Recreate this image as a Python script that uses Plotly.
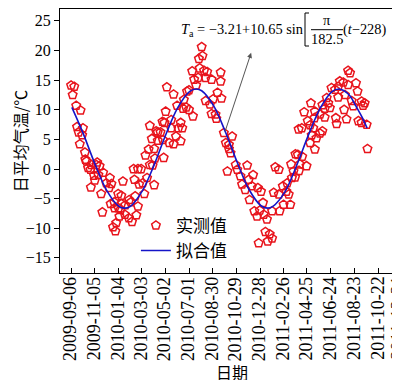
import pandas as pd
import plotly.graph_objects as go

START = "2009-09-06"

# observed daily mean air temperature: day offset from START, value (°C)
obs_day = [0, 4, 8, 13, 15, 19, 22, 24, 28, 30, 35, 36, 39, 43, 49, 50, 51, 58, 60, 64, 66, 69, 72,
           76, 79, 81, 89, 96, 98, 100, 102, 106, 109, 110, 112, 114, 119, 120, 122, 125, 127, 127,
           131, 136, 137, 146, 147, 151, 154, 158, 160, 162, 165, 169, 169, 172, 177, 181, 185,
           188, 192, 196, 199, 199, 204, 206, 210, 210, 212, 215, 219, 219, 226, 231, 232, 234,
           236, 239, 242, 248, 253, 253, 259, 259, 265, 268, 271, 277, 277, 281, 283, 285,
           291, 293, 298, 298, 306, 308, 311, 316, 321, 323, 325, 330, 332, 336, 340, 340, 344,
           351, 355, 355, 359, 365, 367, 370, 378, 378, 380, 386, 391, 395, 399, 399, 403, 407,
           416, 420, 428, 432, 440, 445, 449, 451, 457, 460, 463, 470, 472, 474, 477, 480, 485,
           487, 491, 495, 497, 502, 508, 508, 512, 516, 525, 525, 527, 535, 537, 544, 546, 550,
           554, 556, 558, 562, 566, 567, 573, 575, 576, 578, 583, 584, 589, 595, 598, 604, 604,
           606, 608, 612, 615, 616, 616, 620, 629, 629, 635, 635, 641, 641, 646, 650, 654, 658,
           667, 669, 671, 675, 675, 679, 688, 690, 692, 696, 700, 700, 705, 709, 713, 720, 724,
           726, 734, 734, 738, 742, 747, 749]
obs_temp = [14.1, 12.5, 13.9, 10.7, 7.1, 6.2, 4.2, 9.9, 5.7, 6.9, 2.8, 1.6, 1.3, 0.2, -0.1, -3.1, 0.7,
            -1.1, -1.9, 0.7, 1.1, -1.0, 0.5,
            -4.2, -7.3, -0.6, -2.4, -3.2, -1.5, -5.9, -2.5, -9.8, -5.6, -6.6, -10.5, -9.1, -4.2, -6.6,
            -8.0, -6.9, -4.5, -5.9,
            -2.1, -7.7, -6.1, -8.3, -5.2, -5.6, -8.9, 0.0, -1.8, -4.6, -7.8, -6.3, 0.0, -2.6, 0.0, -2.4,
            -4.2,
            2.3, -1.5, 3.3, 7.3, 0.7, 5.1, 0.6, 3.4, -2.7, 1.8, 6.4, 4.8, 6.2, 6.2, 8.0, 4.9, 1.9,
            7.8, 9.7, 13.8, 4.4, 8.3, 6.9, 12.6, 4.2, 5.5, 10.7, 6.9, 4.7, 7.8, 6.9, 10.2, 11.7,
            10.4, 13.1, 13.3, 10.0, 16.5, 8.9, 15.1, 14.1, 15.4, 18.6, 17.0, 20.6, 19.1, 16.6, 15.4,
            11.5, 16.4,
            10.9, 15.1, 9.3, 11.8, 9.2, 8.5, 12.9, 16.3, 14.8, 11.9, 6.1, 4.4, -0.4, 4.1, 3.4, 2.7, 5.5,
            0.7, -0.1, -1.2, -2.6, -3.5, 0.6, -1.8, -5.2, -2.9, -1.0, -7.1, -8.0, -3.2, -12.5, -7.0,
            -3.8, -5.7,
            -7.7, -10.6, -8.5, -12.2, -11.0, -11.7, -7.1, -4.0, 0.3, -4.3, -0.1, -7.1, -2.9, -6.0,
            -3.8, -2.4, -4.3,
            -6.0, 0.8, -1.5, -0.4, -1.4, 2.5, 2.4, 6.7, -0.3, 0.8, 6.9, 2.1, 9.6, 0.5, 8.1, 7.4, 4.4,
            11.1, 5.7, 6.9, 8.6, 9.7, 3.3, 5.2, 9.2, 6.0, 10.8, 6.4, 10.2, 8.7, 12.0, 11.1, 10.3, 13.7,
            13.4, 8.6, 7.6, 13.9, 12.1, 14.8, 14.6, 10.0, 12.5, 8.4, 16.6, 14.2, 16.2, 11.5, 10.6,
            14.5, 13.1,
            8.1, 11.4, 7.8, 10.7, 11.1, 7.5, 3.4]

# fitted curve
fit_day = [2, 30, 60, 90, 120, 135, 150, 180, 210, 240, 270, 300, 316, 330, 360, 390, 420, 450,
           480, 497, 510, 540, 570, 600, 630, 660, 677, 690, 705, 720, 735, 748]
fit_temp = [10.4, 6.1, 0.9, -3.6, -6.25, -6.6, -6.3, -3.7, 0.7, 5.9, 10.4, 13.1, 13.5, 13.2, 10.7,
            6.25, 1.1, -3.5, -6.2, -6.6, -6.3, -3.9, 0.6, 5.75, 10.3, 13.1, 13.5, 13.2, 12.3, 10.6,
            8.8, 6.9]

tick_labels = ["2009-09-06", "2009-11-05", "2010-01-04", "2010-03-03", "2010-05-02",
               "2010-07-01", "2010-08-30", "2010-10-29", "2010-12-28", "2011-02-26",
               "2011-04-25", "2011-06-24", "2011-08-23", "2011-10-22", "2011-12-21"]
y_ticks = [-15, -10, -5, 0, 5, 10, 15, 20, 25]

start = pd.Timestamp(START)
obs_dates = start + pd.to_timedelta(obs_day, unit="D")
fit_dates = start + pd.to_timedelta(fit_day, unit="D")

SERIF = "Liberation Serif, Times New Roman, serif"
CJK = "Noto Sans CJK SC, sans-serif"

fig = go.Figure()
fig.add_trace(go.Scatter(
    x=obs_dates, y=obs_temp, mode="markers", name="实测值",
    marker=dict(symbol="pentagon-open", size=9, color="#e8141c", line=dict(width=1.5, color="#e8141c")),
))
fig.add_trace(go.Scatter(
    x=fit_dates, y=fit_temp, mode="lines", name="拟合值",
    line=dict(color="#1414c8", width=1.6, shape="spline"),
))

W_L, W_R = 52, 394
T_TOP, T_BOT = 1, 265


def px_x(px):
    return (px - W_L) / (W_R - W_L)


def px_y(py):
    return 1 - (py - T_TOP) / (T_BOT - T_TOP)


fig.update_layout(
    width=400, height=380,
    margin=dict(l=W_L, r=400 - W_R, t=T_TOP, b=380 - T_BOT),
    paper_bgcolor="white", plot_bgcolor="white",
    showlegend=True,
    legend=dict(x=0.222, y=0.247, xanchor="left", yanchor="top", bgcolor="rgba(0,0,0,0)",
                font=dict(family=CJK, size=17, color="black"), tracegroupgap=0),
    xaxis=dict(
        type="date", range=["2009-08-09", "2011-12-21 06:00"],
        tickvals=tick_labels, showticklabels=False,
        ticks="inside", ticklen=5, tickcolor="black",
        showline=True, linecolor="black", linewidth=1, mirror=True, showgrid=False, zeroline=False,
        automargin=False,
    ),
    yaxis=dict(
        range=[-17.55, 27.0], tickvals=y_ticks,
        ticks="outside", ticklen=5, tickcolor="black",
        showline=True, linecolor="black", linewidth=1, mirror=True, showgrid=False, zeroline=False,
        tickfont=dict(family=SERIF, size=16, color="black"),
        title=dict(text="日平均气温/℃", font=dict(family=CJK, size=16, color="black"), standoff=0),
        automargin=False,
    ),
)

# rotated date tick labels under the axis
for lab in tick_labels[:-1]:
    fig.add_annotation(xref="x", yref="paper", x=lab, y=px_y(268), xanchor="center",
                       yanchor="top", textangle=-90, showarrow=False, text=lab, xshift=-1,
                       font=dict(family=SERIF, size=18, color="black"), borderpad=0)
# the last label sits on the right border, so keep it inside the page
fig.add_annotation(xref="paper", yref="paper", x=px_x(400), y=px_y(268), xanchor="right",
                   yanchor="top", textangle=-90, showarrow=False, text=tick_labels[-1],
                   font=dict(family=SERIF, size=18, color="black"), borderpad=0)

# x-axis title placed under the rotated tick labels
fig.add_annotation(xref="paper", yref="paper", x=px_x(224), y=px_y(378), xanchor="center",
                   yanchor="bottom", showarrow=False, text="日期",
                   font=dict(family=CJK, size=16, color="black"))

ffont = dict(family=SERIF, size=14.4, color="black")
fig.add_annotation(xref="paper", yref="paper", x=px_x(171), y=px_y(21.7), xanchor="left",
                   yanchor="middle", showarrow=False, font=ffont,
                   text="<i>T</i><sub>a</sub> = −3.21+10.65 sin")
fig.add_annotation(xref="paper", yref="paper", x=px_x(319), y=px_y(11.5), xanchor="center",
                   yanchor="middle", showarrow=False, font=ffont, text="π")
fig.add_annotation(xref="paper", yref="paper", x=px_x(319), y=px_y(31.5), xanchor="center",
                   yanchor="middle", showarrow=False, font=ffont, text="182.5")
fig.add_annotation(xref="paper", yref="paper", x=px_x(333), y=px_y(21.7), xanchor="left",
                   yanchor="middle", showarrow=False, font=ffont, text="(<i>t</i>−228)")
# fraction bar and brackets
fig.add_shape(type="line", xref="paper", yref="paper", x0=px_x(303), x1=px_x(335),
              y0=px_y(21.7), y1=px_y(21.7), line=dict(color="black", width=1))
fig.add_shape(type="path", xref="paper", yref="paper",
              path=f"M {px_x(301)} {px_y(5)} L {px_x(297)} {px_y(5)} L {px_x(297)} {px_y(38)} L {px_x(301)} {px_y(38)}",
              line=dict(color="black", width=1))
fig.add_shape(type="path", xref="paper", yref="paper",
              path=f"M {px_x(385)} {px_y(5)} L {px_x(389)} {px_y(5)} L {px_x(389)} {px_y(38)} L {px_x(385)} {px_y(38)}",
              line=dict(color="black", width=1))

# arrow from the fitted curve to the formula
fig.add_annotation(x=start + pd.Timedelta(days=455), y=19.6, ax=start + pd.Timedelta(days=388), ay=6.1,
                   xref="x", yref="y", axref="x", ayref="y", showarrow=True, text="",
                   arrowhead=2, arrowsize=1, arrowwidth=1, arrowcolor="#555555")

fig.write_html("out.html")
